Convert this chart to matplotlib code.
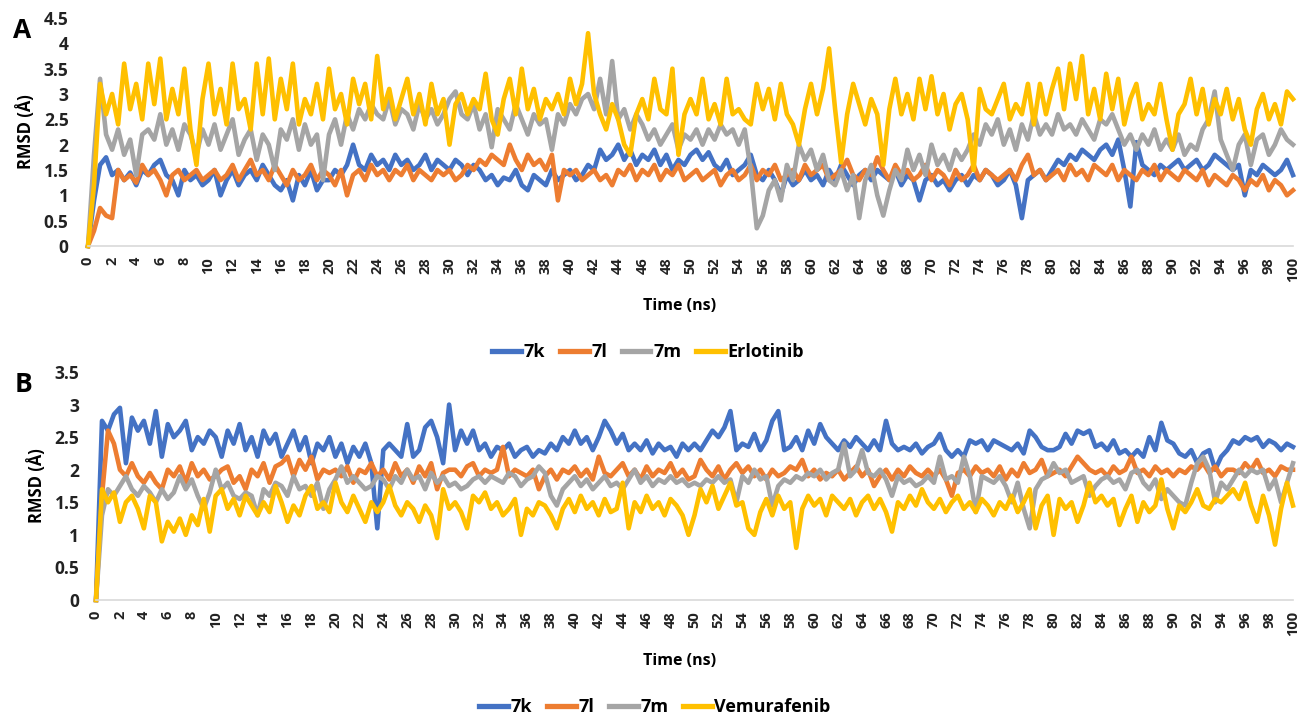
import numpy as np
import matplotlib
matplotlib.use("Agg")
import matplotlib.pyplot as plt
from matplotlib.lines import Line2D

# ---------------- data (0.5 ns resolution) ----------------
time_ns = np.arange(0, 100.01, 0.5)
x_tick_labels = [str(v) for v in range(0, 101, 2)]

# Panel A
a_7k = [0.0, 0.9, 1.6, 1.75, 1.4, 1.5, 1.3, 1.45, 1.2, 1.5, 1.4, 1.6, 1.7, 1.4, 1.3, 1.0, 1.5, 1.3, 1.4, 1.2,
        1.3, 1.5, 1.0, 1.3, 1.5, 1.2, 1.4, 1.5, 1.3, 1.6, 1.4, 1.2, 1.1, 1.3, 0.9, 1.4, 1.2, 1.5, 1.1, 1.3,
        1.3, 1.5, 1.4, 1.6, 2.0, 1.6, 1.5, 1.8, 1.6, 1.7, 1.5, 1.8, 1.6, 1.7, 1.5, 1.6, 1.8, 1.5, 1.7, 1.6,
        1.5, 1.7, 1.6, 1.4, 1.6, 1.5, 1.3, 1.4, 1.2, 1.35, 1.3, 1.5, 1.2, 1.1, 1.4, 1.3, 1.2, 1.5, 1.3, 1.4,
        1.5, 1.3, 1.4, 1.6, 1.5, 1.9, 1.7, 1.8, 2.0, 1.7, 1.9, 1.6, 1.8, 1.7, 1.9, 1.6, 1.8, 1.5, 1.7, 1.6,
        1.8, 1.9, 1.7, 1.85, 1.6, 1.5, 1.7, 1.4, 1.5, 1.6, 1.8, 1.4, 1.3, 1.5, 1.3, 1.0, 1.4, 1.2, 1.3, 1.5,
        1.3, 1.4, 1.2, 1.5, 1.3, 1.6, 1.4, 1.2, 1.4, 1.5, 1.3, 1.5, 1.4, 1.3, 1.5, 1.2, 1.4, 1.3, 0.9, 1.3,
        1.4, 1.2, 1.3, 1.1, 1.3, 1.4, 1.2, 1.4, 1.3, 1.5, 1.4, 1.2, 1.3, 1.5, 1.2, 0.55, 1.3, 1.4, 1.5, 1.3,
        1.5, 1.7, 1.6, 1.8, 1.7, 1.9, 1.8, 1.7, 1.9, 2.0, 1.8, 2.1, 1.5, 0.78, 2.05, 1.6, 1.5, 1.4, 1.6, 1.5,
        1.6, 1.7, 1.5, 1.6, 1.7, 1.5, 1.6, 1.8, 1.7, 1.6, 1.5, 1.6, 1.0, 1.5, 1.4, 1.6, 1.5, 1.4, 1.5, 1.7,
        1.4]
a_7l = [0.0, 0.3, 0.75, 0.6, 0.55, 1.5, 1.3, 1.4, 1.25, 1.6, 1.4, 1.5, 1.3, 1.0, 1.4, 1.5, 1.3, 1.4, 1.5, 1.3,
        1.4, 1.5, 1.3, 1.4, 1.6, 1.3, 1.5, 1.7, 1.4, 1.5, 1.3, 1.6, 1.4, 1.2, 1.5, 1.3, 1.4, 1.6, 1.3, 1.5,
        1.4, 1.2, 1.5, 1.0, 1.4, 1.5, 1.3, 1.6, 1.4, 1.5, 1.3, 1.5, 1.4, 1.6, 1.3, 1.5, 1.4, 1.3, 1.5, 1.4,
        1.5, 1.3, 1.4, 1.6, 1.5, 1.7, 1.6, 1.8, 1.7, 1.6, 2.0, 1.7, 1.5, 1.8, 1.6, 1.7, 1.5, 1.8, 0.9, 1.5,
        1.4, 1.5, 1.3, 1.4, 1.5, 1.3, 1.4, 1.2, 1.5, 1.4, 1.6, 1.3, 1.5, 1.4, 1.6, 1.3, 1.5, 1.4, 1.6, 1.3,
        1.4, 1.5, 1.3, 1.4, 1.5, 1.2, 1.4, 1.5, 1.3, 1.4, 1.6, 1.3, 1.5, 1.4, 1.6, 1.3, 1.4, 1.5, 1.3, 1.6,
        1.4, 1.5, 1.6, 1.3, 1.4, 1.5, 1.7, 1.4, 1.3, 1.5, 1.4, 1.75, 1.5, 1.3, 1.6, 1.4, 1.5, 1.3, 1.4, 1.6,
        1.3, 1.5, 1.4, 1.2, 1.5, 1.3, 1.4, 1.6, 1.3, 1.5, 1.4, 1.3, 1.4, 1.5, 1.3, 1.6, 1.8, 1.4, 1.5, 1.3,
        1.4, 1.5, 1.3, 1.6, 1.4, 1.5, 1.3, 1.6, 1.5, 1.4, 1.6, 1.3, 1.5, 1.4, 1.3, 1.5, 1.4, 1.6, 1.3, 1.5,
        1.4, 1.3, 1.5, 1.4, 1.3, 1.5, 1.2, 1.4, 1.3, 1.2, 1.4, 1.3, 1.1, 1.3, 1.2, 1.4, 1.1, 1.3, 1.2, 1.0,
        1.1]
a_7m = [0.0, 1.8, 3.3, 2.2, 1.9, 2.3, 1.8, 2.1, 1.4, 2.2, 2.3, 2.1, 2.6, 2.0, 2.3, 1.9, 2.4, 2.2, 1.8, 2.3,
        2.0, 2.4, 1.9, 2.2, 2.5, 1.8, 2.1, 2.3, 1.7, 2.2, 2.0, 1.5, 2.3, 2.1, 2.5, 1.9, 2.4, 2.0, 2.2, 1.3,
        2.2, 2.5, 2.0, 2.6, 2.3, 2.7, 2.5, 2.8, 2.6, 2.5, 2.9, 2.4, 2.7, 2.6, 2.3, 2.8, 2.5, 2.7, 2.4, 2.6,
        2.9, 3.05, 2.6, 2.5, 2.8, 2.3, 2.6, 1.95, 2.7, 2.5, 2.3, 2.8, 2.5, 2.2, 2.6, 2.4, 2.5, 1.9, 2.6, 2.4,
        2.8, 2.6, 2.9, 3.0, 2.7, 3.3, 2.6, 3.65, 2.5, 2.7, 2.3, 2.6, 2.4, 2.1, 2.3, 2.0, 2.2, 2.4, 1.9, 2.2,
        2.1, 2.3, 2.0, 2.3, 2.1, 2.4, 2.2, 2.3, 2.0, 2.3, 1.5, 0.35, 0.6, 1.1, 1.3, 0.9, 1.6, 1.3, 2.0, 1.7,
        1.9, 1.5, 1.8, 1.3, 1.2, 1.5, 1.1, 1.4, 0.55, 1.3, 1.6, 1.0, 0.6, 1.1, 1.5, 1.3, 1.9, 1.5, 1.8, 1.4,
        2.0, 1.6, 1.8, 1.5, 1.9, 1.7, 1.9, 2.2, 2.0, 2.4, 2.2, 2.5, 2.0, 2.3, 1.9, 2.4, 2.1, 2.6, 2.2, 2.4,
        2.2, 2.6, 2.3, 2.4, 2.2, 2.5, 2.3, 2.1, 2.5, 2.4, 2.6, 2.3, 2.0, 2.2, 1.9, 2.2, 2.0, 2.3, 1.9, 2.1,
        1.9, 2.2, 1.8, 2.0, 1.9, 2.3, 2.5, 3.05, 2.1, 1.8, 1.5, 2.0, 2.2, 1.6, 2.1, 2.2, 1.8, 2.0, 2.3, 2.1,
        2.0]
a_erlotinib = [0.0, 1.2, 3.2, 2.6, 3.0, 2.4, 3.6, 2.7, 3.2, 2.5, 3.6, 2.8, 3.7, 2.5, 3.1, 2.6, 3.5, 2.3, 1.6, 2.9,
               3.6, 2.6, 3.1, 2.4, 3.6, 2.7, 2.9, 2.3, 3.6, 2.6, 3.7, 2.5, 3.3, 2.7, 3.6, 2.4, 2.9, 2.6, 3.2, 2.5,
               3.5, 2.7, 3.0, 2.4, 3.3, 2.8, 3.2, 2.5, 3.75, 2.7, 3.1, 2.5, 2.9, 3.3, 2.6, 3.0, 2.4, 3.2, 2.6, 2.9,
               2.0, 2.8, 3.0, 2.6, 2.9, 2.7, 3.4, 2.5, 2.2, 2.9, 3.3, 2.6, 3.5, 2.7, 3.1, 2.5, 2.9, 2.7, 3.0, 2.6,
               3.3, 2.8, 3.2, 4.2, 3.0, 2.6, 2.3, 2.8, 2.5, 2.0, 1.8, 2.6, 2.9, 2.5, 3.3, 2.7, 2.6, 3.5, 1.8, 2.6,
               2.9, 2.6, 3.3, 2.5, 2.8, 2.4, 3.3, 2.6, 2.7, 2.5, 2.4, 3.2, 2.7, 3.1, 2.5, 3.2, 2.6, 2.4, 2.0, 2.7,
               3.2, 2.6, 3.1, 3.9, 2.7, 1.65, 2.6, 3.2, 2.8, 2.4, 2.9, 2.6, 1.6, 2.7, 3.3, 2.6, 3.0, 2.5, 3.3, 2.7,
               3.35, 2.6, 3.0, 2.3, 2.8, 3.0, 2.5, 1.5, 3.1, 2.7, 2.6, 2.9, 3.2, 2.5, 2.8, 2.6, 3.2, 2.4, 3.2, 2.6,
               3.1, 3.5, 2.7, 3.6, 2.9, 3.75, 2.6, 3.1, 2.5, 3.4, 2.7, 3.3, 2.4, 2.9, 3.2, 2.5, 2.8, 2.6, 3.2, 2.5,
               1.9, 2.6, 2.8, 3.3, 2.6, 3.1, 2.4, 2.9, 2.6, 3.1, 2.5, 2.9, 2.3, 2.0, 2.7, 3.0, 2.5, 2.8, 2.4, 3.05,
               2.9]

# Panel B
b_7k = [0.0, 2.75, 2.6, 2.85, 2.95, 2.1, 2.8, 2.6, 2.75, 2.4, 2.9, 2.2, 2.7, 2.5, 2.6, 2.75, 2.3, 2.5, 2.4, 2.6,
        2.5, 2.2, 2.6, 2.4, 2.7, 2.3, 2.5, 2.2, 2.6, 2.4, 2.55, 2.2, 2.4, 2.6, 2.3, 2.5, 2.1, 2.4, 2.3, 2.5,
        2.2, 2.4, 2.1, 2.35, 2.2, 2.4, 2.1, 1.1, 2.3, 2.4, 2.3, 2.2, 2.7, 2.2, 2.3, 2.65, 2.75, 2.5, 2.1, 3.0,
        2.3, 2.6, 2.4, 2.6, 2.3, 2.4, 2.2, 2.35, 2.3, 2.4, 2.2, 2.3, 2.35, 2.2, 2.3, 2.25, 2.4, 2.3, 2.5, 2.4,
        2.6, 2.4, 2.5, 2.3, 2.5, 2.75, 2.6, 2.4, 2.55, 2.3, 2.4, 2.3, 2.45, 2.25, 2.4, 2.3, 2.35, 2.2, 2.4, 2.3,
        2.4, 2.3, 2.45, 2.6, 2.5, 2.65, 2.9, 2.3, 2.4, 2.35, 2.55, 2.3, 2.45, 2.75, 2.9, 2.3, 2.35, 2.5, 2.3, 2.6,
        2.4, 2.7, 2.5, 2.4, 2.3, 2.45, 2.35, 2.5, 2.4, 2.3, 2.45, 2.3, 2.75, 2.4, 2.3, 2.35, 2.3, 2.4, 2.25, 2.35,
        2.4, 2.55, 2.3, 2.2, 2.3, 2.2, 2.45, 2.4, 2.45, 2.3, 2.45, 2.4, 2.35, 2.3, 2.4, 2.25, 2.6, 2.5, 2.35, 2.3,
        2.3, 2.35, 2.55, 2.4, 2.6, 2.55, 2.6, 2.35, 2.4, 2.3, 2.45, 2.25, 2.3, 2.2, 2.3, 2.2, 2.5, 2.3, 2.72, 2.45,
        2.4, 2.25, 2.2, 2.3, 2.1, 2.25, 2.3, 2.0, 2.2, 2.3, 2.45, 2.4, 2.5, 2.45, 2.5, 2.35, 2.45, 2.4, 2.3, 2.4,
        2.35]
b_7l = [0.0, 1.6, 2.6, 2.4, 2.0, 1.9, 2.1, 1.9, 1.8, 1.95, 1.8, 1.7, 2.0, 1.9, 2.05, 1.8, 2.1, 1.9, 2.0, 1.85,
        1.9, 2.0, 2.05, 1.8, 1.9, 1.7, 2.0, 1.9, 2.1, 1.8, 2.05, 2.1, 2.2, 1.9, 2.15, 2.0, 2.2, 1.85, 2.0, 1.95,
        2.0, 1.9, 2.05, 1.8, 2.0, 1.95, 2.1, 1.9, 2.0, 1.85, 2.1, 1.9, 2.0, 1.8, 2.05, 1.9, 2.1, 1.7, 1.95, 2.0,
        2.0, 1.9, 2.05, 2.1, 1.9, 2.0, 1.95, 2.0, 2.35, 1.9, 2.0, 1.95, 1.9, 2.0, 1.7, 1.9, 2.0, 1.85, 2.0, 1.95,
        2.05, 1.9, 2.0, 1.85, 2.2, 1.95, 1.9, 2.0, 2.1, 1.9, 2.0, 1.85, 2.05, 1.9, 2.0, 1.95, 2.1, 1.9, 2.0, 1.85,
        1.9, 2.15, 2.0, 1.9, 2.05, 1.85, 2.0, 2.1, 1.95, 2.05, 1.9, 2.0, 1.85, 2.0, 1.9, 1.95, 2.05, 2.0, 2.15, 1.9,
        2.0, 1.85, 1.95, 1.9, 2.0, 1.85, 1.95, 2.05, 1.9, 2.0, 1.75, 1.9, 2.0, 1.85, 2.0, 1.9, 2.05, 1.95, 1.9, 2.0,
        1.9, 2.0, 1.85, 1.6, 1.95, 2.0, 1.9, 2.05, 1.95, 2.0, 1.9, 2.05, 1.85, 2.0, 1.9, 2.1, 1.95, 2.0, 2.15, 1.9,
        1.95, 2.0, 1.9, 2.05, 2.2, 2.1, 2.0, 1.95, 2.0, 1.9, 2.05, 1.95, 2.0, 2.2, 1.95, 2.0, 1.9, 2.05, 1.95, 2.0,
        1.9, 2.0, 1.95, 2.05, 2.0, 2.1, 1.95, 2.05, 1.9, 2.0, 2.0, 1.95, 2.1, 2.0, 2.15, 1.95, 2.0, 1.9, 2.05, 2.0,
        2.0]
b_7m = [0.0, 1.3, 1.7, 1.6, 1.75, 1.9, 1.7, 1.6, 1.75, 1.65, 1.5, 1.7, 1.55, 1.65, 1.9, 1.7, 1.85, 1.6, 1.4, 1.65,
        2.0, 1.7, 1.8, 1.6, 1.55, 1.65, 1.6, 1.3, 1.7, 1.6, 1.8, 1.75, 1.6, 1.9, 1.7, 1.75, 1.6, 1.8, 1.4, 1.7,
        1.85, 2.05, 1.8, 1.9, 1.8, 1.7, 1.75, 1.9, 1.85, 1.7, 1.9, 1.8, 2.0, 1.85, 1.9, 1.7, 1.95, 1.8, 1.9, 1.75,
        1.8, 1.7, 1.75, 1.85, 1.9, 1.8, 1.9, 1.85, 1.8, 1.95, 1.9, 1.75, 1.85, 1.9, 2.05, 1.95, 1.6, 1.45, 1.7, 1.8,
        1.9, 1.75, 1.85, 1.7, 1.8, 1.9, 1.75, 1.8, 1.7, 1.85, 2.0, 1.8, 1.9, 1.75, 1.85, 1.8, 1.9, 1.8, 1.85, 1.75,
        1.8, 1.75, 1.85, 1.8, 1.9, 1.8, 1.85, 1.5, 1.9, 1.8, 2.0, 1.85, 1.9, 1.45, 1.75, 1.85, 1.8, 1.9, 1.85, 1.95,
        1.9, 2.0, 1.85, 1.95, 2.0, 2.4, 1.9, 2.0, 2.3, 1.95, 1.9, 2.0, 1.85, 1.6, 1.9, 1.8, 1.85, 1.75, 1.8, 1.9,
        1.8, 2.2, 1.85, 1.9, 1.8, 2.2, 1.9, 1.35, 1.9, 1.85, 1.8, 1.9, 1.75, 1.5, 1.8, 1.4, 1.1, 1.7, 1.85, 1.9,
        2.1, 1.95, 2.0, 1.8, 1.85, 1.9, 1.6, 1.75, 1.85, 1.9, 1.8, 1.85, 1.7, 1.95, 2.0, 1.8, 1.7, 1.85, 1.55, 1.7,
        1.6, 1.5, 1.45, 1.8, 2.1, 2.2, 2.0, 1.5, 1.8, 1.7, 1.85, 2.0, 1.9, 2.0, 1.95, 2.0, 1.7, 1.85, 1.5, 1.8,
        2.1]
b_vemurafenib = [0.0, 1.7, 1.5, 1.65, 1.2, 1.5, 1.6, 1.4, 1.1, 1.6, 1.5, 0.9, 1.2, 1.05, 1.25, 1.0, 1.3, 1.15, 1.55, 1.05,
                 1.6, 1.7, 1.4, 1.55, 1.3, 1.6, 1.45, 1.3, 1.5, 1.35, 1.75, 1.5, 1.2, 1.45, 1.3, 1.6, 1.75, 1.4, 1.5, 1.35,
                 1.8, 1.5, 1.35, 1.6, 1.4, 1.2, 1.5, 1.35, 1.5, 1.75, 1.45, 1.3, 1.5, 1.4, 1.2, 1.45, 1.3, 0.95, 1.7, 1.4,
                 1.5, 1.35, 1.1, 1.6, 1.5, 1.65, 1.4, 1.5, 1.3, 1.4, 1.55, 1.0, 1.4, 1.3, 1.5, 1.45, 1.3, 1.1, 1.4, 1.55,
                 1.35, 1.6, 1.4, 1.5, 1.3, 1.55, 1.35, 1.4, 1.8, 1.1, 1.5, 1.35, 1.6, 1.4, 1.5, 1.3, 1.55, 1.45, 1.3, 1.0,
                 1.3, 1.7, 1.5, 1.75, 1.4, 1.6, 1.8, 1.45, 1.5, 1.1, 1.0, 1.35, 1.55, 1.3, 1.6, 1.4, 1.5, 0.8, 1.4, 1.6,
                 1.45, 1.55, 1.3, 1.6, 1.5, 1.4, 1.55, 1.3, 1.5, 1.6, 1.4, 1.55, 1.35, 1.05, 1.5, 1.4, 1.6, 1.45, 1.7, 1.5,
                 1.4, 1.55, 1.35, 1.5, 1.6, 1.4, 1.5, 1.35, 1.55, 1.45, 1.3, 1.5, 1.4, 1.6, 1.35, 1.5, 1.7, 1.1, 1.45, 1.6,
                 1.0, 1.55, 1.4, 1.5, 1.2, 1.45, 1.8, 1.5, 1.6, 1.45, 1.55, 1.15, 1.4, 1.6, 1.2, 1.5, 1.35, 1.45, 1.85, 1.4,
                 1.1, 1.45, 1.35, 1.5, 1.7, 1.45, 1.4, 1.55, 1.5, 1.6, 1.7, 1.55, 1.8, 1.45, 1.2, 1.6, 1.3, 0.85, 1.4, 1.8,
                 1.45]

series_names_a = ["7k", "7l", "7m", "Erlotinib"]
series_names_b = ["7k", "7l", "7m", "Vemurafenib"]
colors = ["#4472C4", "#ED7D31", "#A5A5A5", "#FFC000"]

# ---------------- figure ----------------
plt.rcParams['font.family'] = ['Open Sans', 'DejaVu Sans']
W, H = 1301, 718
fig = plt.figure(figsize=(W / 100, H / 100), dpi=100)


def px_axes(x0, x1, ytop, ybot):
    return fig.add_axes([x0 / W, 1 - ybot / H, (x1 - x0) / W, (ybot - ytop) / H])


def style_axes(ax, ymax, ystep, ypad):
    ax.set_xlim(0, 100)
    ax.set_ylim(0, ymax)
    ax.set_xticks(range(0, 101, 2))
    ax.set_xticklabels(x_tick_labels, rotation=90, fontsize=10.5, fontweight='bold', color='#222222')
    yt = np.arange(0, ymax + 1e-9, ystep)
    ax.set_yticks(yt)
    ax.set_yticklabels([("%g" % v) for v in yt], fontsize=12.5, fontweight='bold', color='#222222')
    ax.tick_params(axis='x', length=0, pad=8)
    ax.tick_params(axis='y', length=0, pad=ypad)
    for s in ['top', 'right', 'left']:
        ax.spines[s].set_visible(False)
    ax.spines['bottom'].set_color('#D9D9D9')
    ax.spines['bottom'].set_linewidth(1.2)


LW = 3.3

# Panel A
axA = px_axes(88, 1293, 18, 246)
for vals, c, n in zip([a_7k, a_7l, a_7m, a_erlotinib], colors, series_names_a):
    axA.plot(time_ns, vals, color=c, lw=LW, label=n, solid_joinstyle='round', clip_on=False)
style_axes(axA, 4.5, 0.5, 14)
axA.set_ylabel("RMSD (Å)", fontsize=12, fontweight='bold', labelpad=6)
fig.text(680 / W, 1 - 306 / H, "Time (ns)", ha='center', va='center', fontsize=11.5, fontweight='bold')
fig.text(22 / W, 1 - 31 / H, "A", ha='center', va='center', fontsize=19, fontweight='bold')

# Panel B
axB = px_axes(96, 1293, 372, 600)
for vals, c, n in zip([b_7k, b_7l, b_7m, b_vemurafenib], colors, series_names_b):
    axB.plot(time_ns, vals, color=c, lw=LW, label=n, solid_joinstyle='round', clip_on=False)
style_axes(axB, 3.5, 0.5, 12)
axB.set_ylabel("RMSD (Å)", fontsize=12, fontweight='bold', labelpad=6)
fig.text(680 / W, 1 - 661 / H, "Time (ns)", ha='center', va='center', fontsize=11.5, fontweight='bold')
fig.text(24 / W, 1 - 385 / H, "B", ha='center', va='center', fontsize=19, fontweight='bold')


def add_legend(names, ycenter, xcenter):
    handles = [Line2D([0], [0], color=c, lw=3.8) for c in colors]
    leg = fig.legend(handles, names, loc='center', bbox_to_anchor=(xcenter / W, 1 - ycenter / H),
                     ncol=4, frameon=False, handlelength=1.6, handletextpad=0.15, columnspacing=0.8,
                     prop={'size': 13, 'weight': 'bold'})
    return leg


add_legend(series_names_a, 352, 648)
add_legend(series_names_b, 707, 655)

fig.savefig("out.png", dpi=100, facecolor='white')
